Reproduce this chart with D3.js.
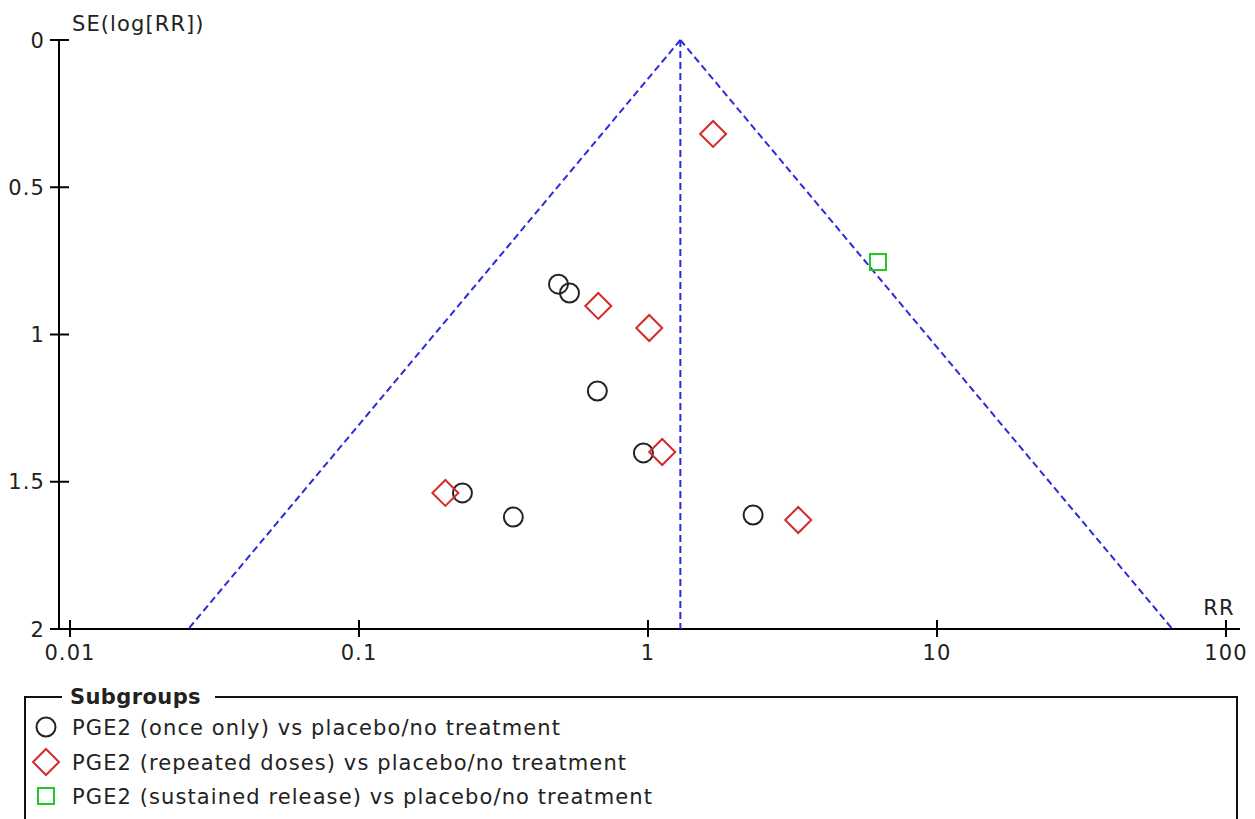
<!DOCTYPE html>
<html>
<head>
<meta charset="utf-8">
<script src="https://cdn.jsdelivr.net/npm/d3@7"></script>
<style>
	body { margin: 0; background: #fff; }
	svg text { font-family: 'DejaVu Sans', sans-serif; fill: #222; }
</style>
</head>
<body>
<div id="chart"></div>
<script>
// funnel plot data: RR and SE(log[RR]) per subgroup
const onceRR = [0.49, 0.535, 0.668, 0.964, 0.228, 0.342, 2.31];
const onceSE = [0.829, 0.859, 1.192, 1.402, 1.538, 1.620, 1.613];

const repeatedRR = [1.68, 0.673, 1.01, 1.12, 0.199, 3.31];
const repeatedSE = [0.319, 0.903, 0.978, 1.399, 1.538, 1.630];

const sustainedRR = [6.25];
const sustainedSE = [0.754];

const pooledRR = 1.294;

const xTicks = [0.01, 0.1, 1, 10, 100];
const yTicks = [0, 0.5, 1, 1.5, 2];

const legendLabels = [
	'PGE2 (once only) vs placebo/no treatment',
	'PGE2 (repeated doses) vs placebo/no treatment',
	'PGE2 (sustained release) vs placebo/no treatment'
];

const config = {
	width: 1255,
	height: 819,
	axisX: 59,
	fontSize: 21,
	spacing: 1.1
};

const svg = d3.select('#chart')
	.append('svg')
	.attr('width', config.width)
	.attr('height', config.height);

const x = d3.scaleLog().domain([0.01, 100]).range([70, 1226]);
const y = d3.scaleLinear().domain([0, 2]).range([40, 629]);

// axes
const yAxis = svg.append('g');
yAxis.append('line')
	.attr('x1', config.axisX).attr('x2', config.axisX)
	.attr('y1', y(0)).attr('y2', y(2))
	.attr('stroke', '#000').attr('stroke-width', 2);
yAxis.selectAll('.ytick')
	.data(yTicks)
	.enter()
	.append('line')
		.attr('x1', 50)
		.attr('x2', d => d === 2 ? config.axisX : 69)
		.attr('y1', d => y(d)).attr('y2', d => y(d))
		.attr('stroke', '#000').attr('stroke-width', 2);
yAxis.selectAll('.ylabel')
	.data(yTicks)
	.enter()
	.append('text')
		.attr('x', 45)
		.attr('y', d => y(d))
		.attr('dy', '0.36em')
		.attr('text-anchor', 'end')
		.style('font-size', config.fontSize + 'px')
		.style('letter-spacing', config.spacing + 'px')
		.text(d => d);

const xAxis = svg.append('g');
xAxis.append('line')
	.attr('x1', config.axisX).attr('x2', 1240)
	.attr('y1', y(2)).attr('y2', y(2))
	.attr('stroke', '#000').attr('stroke-width', 2);
xAxis.selectAll('.xtick')
	.data(xTicks)
	.enter()
	.append('line')
		.attr('x1', d => x(d)).attr('x2', d => x(d))
		.attr('y1', y(2) - 9).attr('y2', y(2) + 8)
		.attr('stroke', '#000').attr('stroke-width', 2);
xAxis.selectAll('.xlabel')
	.data(xTicks)
	.enter()
	.append('text')
		.attr('x', d => x(d))
		.attr('y', 660)
		.attr('text-anchor', 'middle')
		.style('font-size', config.fontSize + 'px')
		.style('letter-spacing', config.spacing + 'px')
		.text(d => d);

svg.append('text')
	.attr('x', 72).attr('y', 31)
	.style('font-size', config.fontSize + 'px')
	.style('letter-spacing', config.spacing + 'px')
	.text('SE(log[RR])');
svg.append('text')
	.attr('x', 1219).attr('y', 615)
	.attr('text-anchor', 'middle')
	.style('font-size', config.fontSize + 'px')
	.style('letter-spacing', config.spacing + 'px')
	.text('RR');

// funnel lines (95% limits)
const z = 1.96;
const funnel = svg.append('g')
	.attr('fill', 'none')
	.attr('stroke', '#2b2bdc')
	.attr('stroke-width', 2)
	.attr('stroke-dasharray', '7,4');
funnel.append('line')
	.attr('x1', x(pooledRR)).attr('x2', x(pooledRR))
	.attr('y1', y(0)).attr('y2', y(2));
[-1, 1].forEach(s => {
	funnel.append('line')
		.attr('x1', x(pooledRR)).attr('y1', y(0))
		.attr('x2', x(pooledRR * Math.exp(s * z * 2))).attr('y2', y(2));
});

// points
const onceData = onceRR.map((d, i) => ({rr: d, se: onceSE[i]}));
const repData = repeatedRR.map((d, i) => ({rr: d, se: repeatedSE[i]}));
const susData = sustainedRR.map((d, i) => ({rr: d, se: sustainedSE[i]}));

const marks = svg.append('g');
marks.selectAll('circle')
	.data(onceData)
	.enter()
	.append('circle')
		.attr('cx', d => x(d.rr))
		.attr('cy', d => y(d.se))
		.attr('r', 9.5)
		.attr('fill', 'none')
		.attr('stroke', '#222')
		.attr('stroke-width', 2);

const diamond = 'M0,-13L13,0L0,13L-13,0Z';
marks.selectAll('.diamond')
	.data(repData)
	.enter()
	.append('path')
		.attr('class', 'diamond')
		.attr('transform', d => `translate(${x(d.rr)},${y(d.se)})`)
		.attr('d', diamond)
		.attr('fill', 'none')
		.attr('stroke', '#d42a2a')
		.attr('stroke-width', 2);

marks.selectAll('.square')
	.data(susData)
	.enter()
	.append('rect')
		.attr('class', 'square')
		.attr('x', d => x(d.rr) - 8)
		.attr('y', d => y(d.se) - 8)
		.attr('width', 16).attr('height', 16)
		.attr('fill', 'none')
		.attr('stroke', '#22c722')
		.attr('stroke-width', 2);

// legend
const legend = svg.append('g');
legend.append('path')
	.attr('d', 'M62,697H25V830M215,697H1237V830')
	.attr('fill', 'none')
	.attr('stroke', '#111')
	.attr('stroke-width', 2);
legend.append('text')
	.attr('x', 70).attr('y', 704)
	.style('font-size', config.fontSize + 'px')
	.style('font-weight', 'bold')
	.style('letter-spacing', '0.4px')
	.text('Subgroups');

const rowY = [727, 762, 796];
legend.append('circle')
	.attr('cx', 46).attr('cy', rowY[0]).attr('r', 9.5)
	.attr('fill', 'none').attr('stroke', '#222').attr('stroke-width', 2);
legend.append('path')
	.attr('transform', `translate(46,${rowY[1]})`)
	.attr('d', diamond)
	.attr('fill', 'none').attr('stroke', '#d42a2a').attr('stroke-width', 2);
legend.append('rect')
	.attr('x', 38).attr('y', rowY[2] - 8).attr('width', 16).attr('height', 16)
	.attr('fill', 'none').attr('stroke', '#22c722').attr('stroke-width', 2);

legend.selectAll('.legend-label')
	.data(legendLabels)
	.enter()
	.append('text')
		.attr('class', 'legend-label')
		.attr('x', 72)
		.attr('y', (d, i) => rowY[i])
		.attr('dy', '0.36em')
		.style('font-size', config.fontSize + 'px')
		.style('letter-spacing', config.spacing + 'px')
		.text(d => d);
</script>
</body>
</html>
